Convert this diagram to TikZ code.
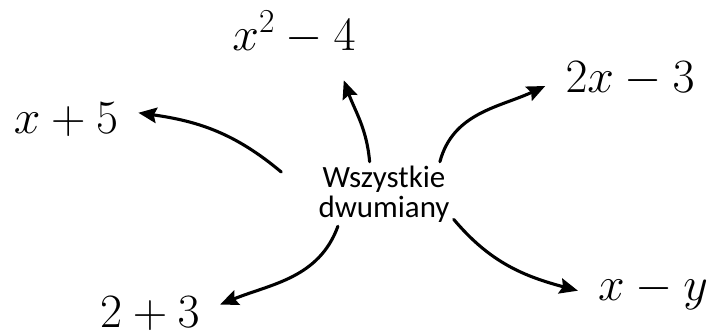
\RequirePackage{fix-cm}
\documentclass[tikz,border=0pt]{standalone}
\usepackage{fontspec}
\newfontfamily\handfont{Carlito}
\usetikzlibrary{arrows.meta}
\tikzset{
    term/.style={font=\fontsize{34}{40}\selectfont, inner xsep=0.5cm, inner ysep=0.25cm, anchor=base},
    hub/.style={font=\handfont\fontsize{22}{21}\selectfont, align=center, inner sep=0.1cm},
    arrow/.style={-{Stealth[length=13pt, width=11pt, inset=2pt]}, line width=2.2pt, line cap=round}
}

\begin{document}
\begin{tikzpicture}[x=0.025cm, y=0.025cm]
        \useasboundingbox (0,0) rectangle (710,-335);
        \node [hub] (c) at (384,-194) {Wszystkie\\dwumiany};
        \node [term] (sq) at (294,-50) {$x^{2} - 4$};
        \node [term] (p5) at (66,-133) {$x + 5$};
        \node [term] (p2x) at (630,-92) {$2x - 3$};
        \node [term] (pxy) at (653,-300) {$x - y$};
        \node [term, inner ysep=0.1cm] (p23) at (150,-327) {$2 + 3$};
        \draw [arrow] ([shift={(-33,22)}]c.west) to[out=140, in=-8] (p5.5);
        \draw [arrow] (c.114) to[out=95, in=-70] ([xshift=-0.8cm, yshift=-0.4cm]sq.south east);
        \draw [arrow] (c.30) to[out=75, in=205] (p2x.185);
        \draw [arrow] (c.-20) to[out=-50, in=165] (pxy.west);
        \draw [arrow] (c.215) to[out=-110, in=22] (p23.7);
    \end{tikzpicture}
\end{document}
